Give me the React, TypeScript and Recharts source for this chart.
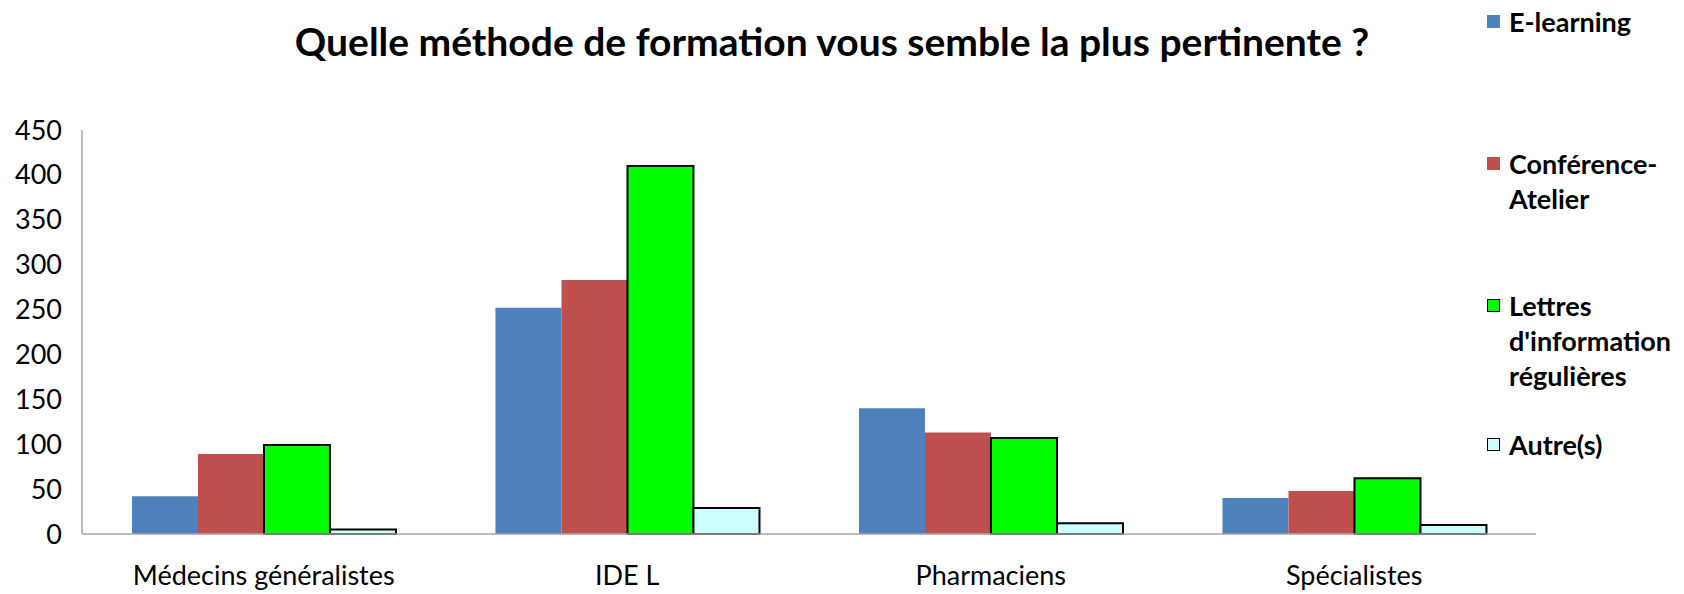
import React from "react";
import { BarChart, Bar, XAxis, YAxis } from "recharts";

const categories = ["Médecins généralistes", "IDE L", "Pharmaciens", "Spécialistes"];
const eLearning = [42, 252, 140, 40];
const conference = [89, 283, 113, 48];
const lettres = [99, 410, 107, 62];
const autres = [5, 29, 12, 10];
const yTicks = [0, 50, 100, 150, 200, 250, 300, 350, 400, 450];

const data = categories.map((name, i) => ({
  name,
  elearning: eLearning[i],
  conference: conference[i],
  lettres: lettres[i],
  autres: autres[i],
}));

const FONT = "Lato, 'Open Sans', sans-serif";

const LEGEND_ITEMS = [
  { lines: ["E-learning"], fill: "#4f81bd", stroke: false, top: 4 },
  { lines: ["Conférence-", "Atelier"], fill: "#c0504d", stroke: false, top: 146 },
  { lines: ["Lettres", "d'information", "régulières"], fill: "#00ff00", stroke: true, top: 288 },
  { lines: ["Autre(s)"], fill: "#ccffff", stroke: true, top: 427 },
];

const LegendBox = () => (
  <div style={{ position: "absolute", left: 1487, top: 0 }}>
    {LEGEND_ITEMS.map((item, i) => (
      <div key={i} style={{ position: "absolute", left: 0, top: item.top, display: "flex" }}>
        <div
          style={{
            width: 13,
            height: 13,
            marginTop: 11,
            flex: "none",
            background: item.fill,
            border: item.stroke ? "1.5px solid #000" : "none",
            boxSizing: "border-box",
          }}
        />
        <div
          style={{
            marginLeft: 9,
            fontFamily: FONT,
            fontWeight: 700,
            fontSize: 27,
            lineHeight: "35px",
            color: "#000",
            whiteSpace: "nowrap",
          }}
        >
          {item.lines.map((l, j) => (
            <div key={j}>{l}</div>
          ))}
        </div>
      </div>
    ))}
  </div>
);

export default function App() {
  return (
    <div style={{ position: "relative", width: 1684, height: 594, background: "#fff", overflow: "hidden" }}>
      <style>{"body{margin:0}"}</style>
      <div
        style={{
          position: "absolute",
          left: 0,
          top: 17,
          width: 1664,
          textAlign: "center",
          fontFamily: FONT,
          fontWeight: 700,
          fontSize: 39,
          lineHeight: "48px",
          color: "#000",
        }}
      >
        Quelle méthode de formation vous semble la plus pertinente ?
      </div>
      <BarChart
        width={1684}
        height={594}
        data={data}
        margin={{ top: 130, right: 148, bottom: 30, left: 10 }}
        barCategoryGap="13.75%"
        barGap={0}
      >
        <XAxis
          dataKey="name"
          axisLine={{ stroke: "#a6a6a6", strokeWidth: 1.5 }}
          tickLine={false}
          tickSize={0}
          tickMargin={32}
          tick={{ fontFamily: FONT, fontSize: 27, fill: "#000" }}
        />
        <YAxis
          width={72}
          domain={[0, 450]}
          ticks={yTicks}
          axisLine={{ stroke: "#a6a6a6", strokeWidth: 1.5 }}
          tickLine={false}
          tickSize={0}
          tickMargin={20}
          tick={{ fontFamily: FONT, fontSize: 27, fill: "#000" }}
        />
        <Bar dataKey="elearning" name="E-learning" fill="#4f81bd" isAnimationActive={false} />
        <Bar dataKey="conference" name="Conférence-Atelier" fill="#c0504d" isAnimationActive={false} />
        <Bar
          dataKey="lettres"
          name="Lettres d'information régulières"
          fill="#00ff00"
          stroke="#000"
          strokeWidth={2}
          isAnimationActive={false}
        />
        <Bar
          dataKey="autres"
          name="Autre(s)"
          fill="#ccffff"
          stroke="#000"
          strokeWidth={2}
          isAnimationActive={false}
        />
      </BarChart>
      <LegendBox />
    </div>
  );
}
